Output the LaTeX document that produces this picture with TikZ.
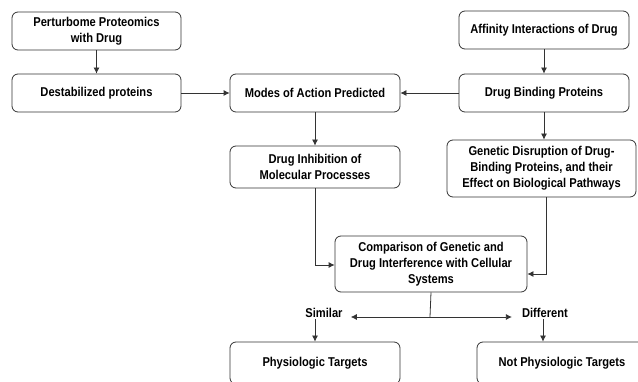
\documentclass[tikz,border=0pt]{standalone}
\usepackage{fontspec}
\setmainfont{Liberation Sans}[FakeStretch=0.87]
\usetikzlibrary{arrows.meta}
\usetikzlibrary{positioning}

\begin{document}
\begin{tikzpicture}[x=1pt, y=-1pt]
		\tikzset{box/.style={shape = rectangle, draw = black!80, rounded corners = 6pt,
				line width = 0.8pt, minimum width = 170pt, minimum height = 38pt,
				align = center, inner sep = 2pt,
				font = \fontsize{12.8}{16}\selectfont\bfseries}}
		\tikzset{tag/.style={font = \fontsize{12.8}{16}\selectfont\bfseries, inner sep = 1pt}}
		\tikzset{flow/.style={draw = black!80, line width = 0.8pt,
				-{Latex[length = 6pt, width = 6pt]}}}
		\useasboundingbox (0, 0) rectangle (638, 382);
		%boxes
		\node[box, minimum width = 169pt] (perturb) at (96.5, 31) {Perturbome Proteomics\\with Drug};
		\node[box, minimum width = 169pt] (destab) at (96.5, 93) {Destabilized proteins};
		\node[box] (modes) at (315, 93) {Modes of Action Predicted};
		\node[box] (affinity) at (544, 30) {Affinity Interactions of Drug};
		\node[box] (binding) at (544, 93) {Drug Binding Proteins};
		\node[box, minimum height = 42pt] (inhib) at (315, 167) {Drug Inhibition of\\Molecular Processes};
		\node[box, minimum width = 189pt, minimum height = 57pt] (genetic) at (541.5, 168.5)
			{Genetic Disruption of Drug-\\Binding Proteins, and their\\Effect on Biological Pathways};
		\node[box, minimum width = 192pt, minimum height = 56pt] (comp) at (431, 264)
			{Comparison of Genetic and\\Drug Interference with Cellular\\Systems};
		\node[box, minimum height = 42pt] (phys) at (315, 363) {Physiologic Targets};
		\node[box, minimum height = 42pt] (notphys) at (562, 363) {Not Physiologic Targets};
		%labels
		\node[tag] (similar) at (324, 313) {Similar};
		\node[tag] (different) at (545, 313) {Different};
		\coordinate (split) at (430, 317);
		%edges
		\path[flow] (perturb) -- (destab);
		\path[flow] (destab) -- (modes);
		\path[flow] (affinity) -- (binding);
		\path[flow] (binding) -- (modes);
		\path[flow] (modes) -- (inhib);
		\path[flow] (binding) -- (binding |- genetic.north);
		\path[flow] (inhib.south) |- ([yshift = -1pt]comp.west);
		\path[flow] ([xshift = 4.5pt]genetic.south) |- ([yshift = -10pt]comp.east);
		\draw[draw = black!80, line width = 0.8pt] (comp.south) -- (split);
		\path[flow] (split) -- ([xshift = 7pt]similar.east |- split);
		\path[flow] (split) -- ([xshift = -9pt]different.west |- split);
		\path[flow] (phys.north |- similar.south) -- (phys.north);
		\path[flow] ([xshift = -2pt]different.south) -- ([xshift = -2pt]different.south |- notphys.north);
\end{tikzpicture}
\end{document}
